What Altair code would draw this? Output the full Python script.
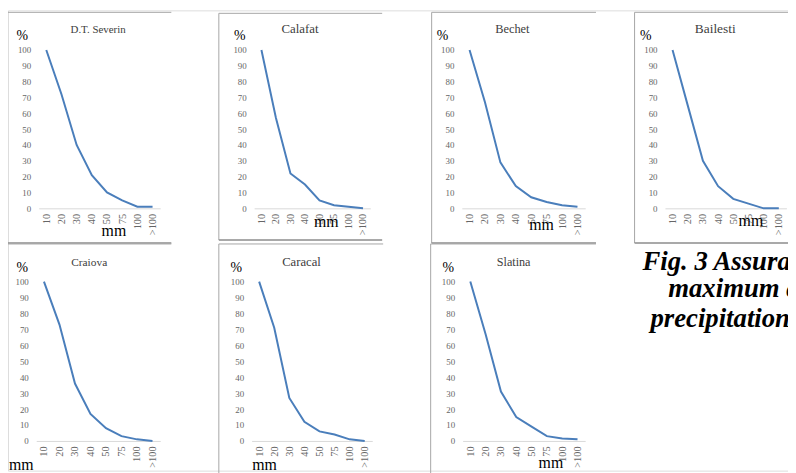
import altair as alt
import pandas as pd

# ---------------- data ----------------
categories = ["10", "20", "30", "40", "50", "75", "100", ">100"]
stations = ["D.T. Severin", "Calafat", "Bechet", "Bailesti", "Craiova", "Caracal", "Slatina"]

severin = [100, 72, 40, 21, 10, 5, 1, 1]
calafat = [100, 57, 22, 15, 5, 2, 1, 0]
bechet = [100, 67, 29, 14, 7, 4, 2, 1]
bailesti = [100, 65, 30, 14, 6, 3, 0, 0]
craiova = [100, 73, 36, 17, 8, 3, 1, 0]
caracal = [100, 71, 27, 12, 6, 4, 1, 0]
slatina = [100, 67, 31, 15, 9, 3, 1.5, 1]
series = [severin, calafat, bechet, bailesti, craiova, caracal, slatina]

y_ticks = list(range(0, 101, 10))
caption_lines = ["Fig. 3 Assura", "maximum a", "precipitation"]

# ---------------- layout (page pixels) ----------------
W, H = 788, 465
OX, OY = 8, 8
LINE = "#4a7ebb"
FRAME = "#a6a6a6"
SERIF = "'Liberation Serif', 'Times New Roman', Times, serif"

rows = [
    dict(zero=208, top=48, title_base=31, pct_y=33),
    dict(zero=443, top=282, title_base=266, pct_y=268),
]
panels = [
    dict(x0=39.0, x1=161.7, row=0, tcx=99, tfs=11, pdx=-17, mmx=114.5, mmy=27, fr=(6, 173, 10, 243)),
    dict(x0=256.7, x1=374.0, row=0, tcx=303, tfs=13, pdx=-15, mmx=329, mmy=18, fr=(221, 386, 11, 240)),
    dict(x0=466.5, x1=591.1, row=0, tcx=517.5, tfs=12.5, pdx=-20, mmx=546.5, mmy=21, fr=(436, 602, 10, 243)),
    dict(x0=671.7, x1=794.4, row=0, tcx=722.5, tfs=13.5, pdx=-20, mmx=758, mmy=17, fr=(641, 820, 10, 243)),
    dict(x0=36.5, x1=161.8, row=1, tcx=90, tfs=11.5, pdx=-14.5, mmx=21, mmy=29, fr=(7, 173, 244, 490)),
    dict(x0=254.1, x1=376.0, row=1, tcx=304.5, tfs=12.8, pdx=-16, mmx=266.7, mmy=29, fr=(221, 387, 244, 490)),
    dict(x0=467.3, x1=591.1, row=1, tcx=518.8, tfs=12.3, pdx=-15, mmx=556, mmy=27, fr=(435, 602, 244, 490)),
]
caption_pos = [(649, 270), (675, 298), (657, 328)]

one = pd.DataFrame({"a": [0]})
layers = []


def rule(xa, xb, ya, yb, color, width):
    return alt.Chart(one).mark_rule(color=color, strokeWidth=width).encode(
        x=alt.value(xa - OX), x2=alt.value(xb - OX),
        y=alt.value(ya - OY), y2=alt.value(yb - OY),
    )


for i, (name, vals) in enumerate(zip(stations, series)):
    P = panels[i]
    R = rows[P["row"]]
    x0, x1 = P["x0"] - OX, P["x1"] - OX
    yb, yt = R["zero"] - OY, R["top"] - OY

    fl, fr_, ft, fb = P["fr"]
    layers.append(rule(fl, fl, ft, fb, FRAME, 1))        # left edge
    layers.append(rule(fl, fr_, ft, ft, FRAME, 1))       # top edge
    layers.append(rule(fl, fr_, fb, fb, "#8c8c8c", 1.5))  # bottom edge

    df = pd.DataFrame({"mm": categories, "pct": vals})
    line = alt.Chart(df).mark_line(color=LINE, strokeWidth=2).encode(
        x=alt.X(
            "mm:N", sort=categories,
            scale=alt.Scale(type="point", domain=categories, range=[x0, x1], padding=0.5),
            axis=alt.Axis(
                orient="bottom", offset=yb - H, domainColor="#d9d9d9", domainWidth=1,
                ticks=False, grid=False, labelAngle=-90, labelFont=SERIF, labelFontSize=10.5,
                labelColor="#666666", labelPadding=5,
                title="mm", titleX=P["mmx"] - OX, titleY=P["mmy"], titleAlign="center",
                titleBaseline="alphabetic", titleFont=SERIF, titleFontSize=16,
                titleFontWeight="normal", titleColor="#000000",
            ),
        ),
        y=alt.Y(
            "pct:Q",
            scale=alt.Scale(domain=[0, 100], range=[yb, yt], nice=False, zero=True),
            axis=alt.Axis(
                orient="left", offset=-x0, values=y_ticks, domain=False, ticks=False, grid=False,
                labelFont=SERIF, labelFontSize=9, labelColor="#666666", labelPadding=8,
                title="%", titleAngle=0, titleX=P["pdx"], titleY=R["pct_y"] - OY,
                titleAlign="center", titleBaseline="middle", titleFont=SERIF, titleFontSize=14,
                titleFontWeight="normal", titleColor="#000000",
            ),
        ),
    )
    layers.append(line)

    ttl = alt.Chart(pd.DataFrame({"t": [name]})).mark_text(
        font=SERIF, fontSize=P["tfs"], color="#404040", align="center", baseline="alphabetic"
    ).encode(text="t:N", x=alt.value(P["tcx"] - OX), y=alt.value(R["title_base"] - OY))
    layers.append(ttl)

for txt, (cx, cy) in zip(caption_lines, caption_pos):
    cap = alt.Chart(pd.DataFrame({"t": [txt]})).mark_text(
        font=SERIF, fontSize=27, fontStyle="italic", fontWeight="bold", color="#000000",
        align="left", baseline="alphabetic",
    ).encode(text="t:N", x=alt.value(cx - OX), y=alt.value(cy - OY))
    layers.append(cap)

chart = (
    alt.layer(*layers)
    .resolve_scale(x="independent", y="independent")
    .resolve_axis(x="independent", y="independent")
    .properties(width=W, height=H, padding=0, autosize=alt.AutoSizeParams(type="none"))
    .configure_view(stroke=None)
    .configure(background="white")
)

chart.save("out.html", embed_options={"renderer": "svg", "actions": False})
